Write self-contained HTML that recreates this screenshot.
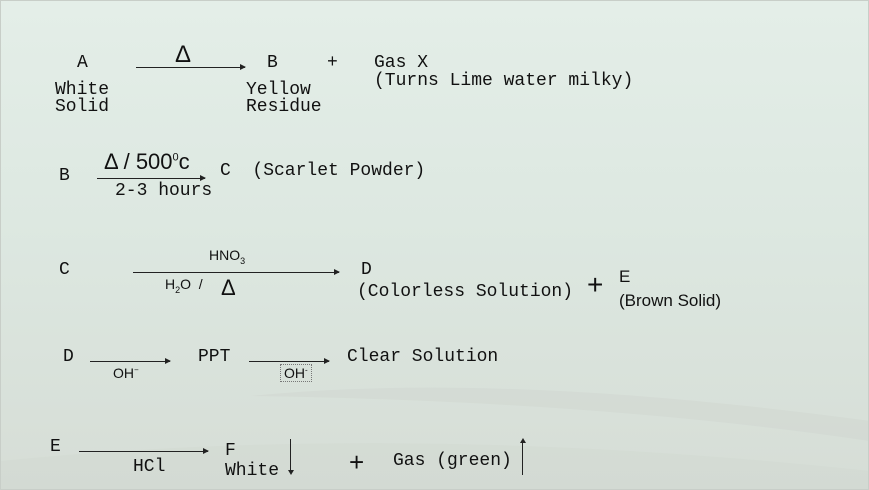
<!DOCTYPE html>
<html><head><meta charset="utf-8"><style>
body{margin:0;width:869px;height:490px;overflow:hidden;}
#c{position:relative;width:867px;height:488px;border:1px solid #c8cec8;background:linear-gradient(180deg,#e4eee8 0%,#dde8e1 45%,#d6ddd6 100%);font-family:"Liberation Mono",monospace;font-size:18px;color:#111;overflow:hidden}
.t{position:absolute;white-space:pre;line-height:1}
.s{font-family:"Liberation Sans",sans-serif}
.a{position:absolute;height:1px;background:#222}
.a:after{content:"";position:absolute;right:-1px;top:-3px;border-left:6px solid #222;border-top:3.5px solid transparent;border-bottom:3.5px solid transparent}
.v{position:absolute;width:1px;background:#222}
</style></head><body><div id="c">
<svg width="869" height="490" style="position:absolute;left:0;top:0"><path d="M250 395 Q500 370 869 420 L869 440 Q600 400 250 395Z" fill="#cfd6cf" opacity=".5"/><path d="M0 460 Q400 420 869 470 L869 490 L0 490Z" fill="#d0d7d0" opacity=".4"/></svg>
<div class="t" style="left:76px;top:53px">A</div>
<div class="a" style="left:135px;top:66px;width:109px"></div>
<div class="t s" style="left:174px;top:42px;font-size:24px">Δ</div>
<div class="t" style="left:266px;top:53px">B</div>
<div class="t" style="left:326px;top:53px">+</div>
<div class="t" style="left:373px;top:53px">Gas X</div>
<div class="t" style="left:373px;top:71px">(Turns Lime water milky)</div>
<div class="t" style="left:54px;top:80px">White</div>
<div class="t" style="left:54px;top:97px">Solid</div>
<div class="t" style="left:245px;top:80px">Yellow</div>
<div class="t" style="left:245px;top:97px">Residue</div>

<div class="t" style="left:58px;top:166px">B</div>
<div class="t s" style="left:103px;top:150px;font-size:22px">Δ / 500<sup style="font-size:11px">0</sup>c</div>
<div class="a" style="left:96px;top:177px;width:108px"></div>
<div class="t" style="left:114px;top:181px">2-3 hours</div>
<div class="t" style="left:219px;top:161px">C  (Scarlet Powder)</div>

<div class="t" style="left:58px;top:260px">C</div>
<div class="t s" style="left:208px;top:247px;font-size:14px">HNO<sub style="font-size:9px">3</sub></div>
<div class="a" style="left:132px;top:271px;width:206px"></div>
<div class="t s" style="left:164px;top:276px;font-size:14px">H<sub style="font-size:9px">2</sub>O  /</div>
<div class="t s" style="left:220px;top:276px;font-size:22px">Δ</div>
<div class="t" style="left:360px;top:260px">D</div>
<div class="t" style="left:356px;top:282px">(Colorless Solution)</div>
<div class="t s" style="left:586px;top:270px;font-size:28px">+</div>
<div class="t s" style="left:618px;top:267px;font-size:17px">E</div>
<div class="t s" style="left:618px;top:291px;font-size:17px">(Brown Solid)</div>

<div class="t" style="left:62px;top:347px">D</div>
<div class="a" style="left:89px;top:360px;width:80px"></div>
<div class="t s" style="left:112px;top:365px;font-size:14px">OH<sup style="font-size:8px">−</sup></div>
<div class="t" style="left:197px;top:347px">PPT</div>
<div class="a" style="left:248px;top:360px;width:80px"></div>
<div class="t s" style="left:279px;top:363px;font-size:14px;border:1px dotted #777;padding:1px 3px">OH<sup style="font-size:8px">-</sup></div>
<div class="t" style="left:346px;top:347px">Clear Solution</div>

<div class="t" style="left:49px;top:437px">E</div>
<div class="a" style="left:78px;top:450px;width:129px"></div>
<div class="t" style="left:132px;top:457px">HCl</div>
<div class="t" style="left:224px;top:441px">F</div>
<div class="t" style="left:224px;top:461px">White</div>
<div class="v" style="left:289px;top:438px;height:31px"></div>
<div style="position:absolute;left:287px;top:469px;border-top:5px solid #222;border-left:3px solid transparent;border-right:3px solid transparent"></div>
<div class="t s" style="left:348px;top:448px;font-size:26px">+</div>
<div class="t" style="left:392px;top:451px">Gas (green)</div>
<div class="v" style="left:521px;top:442px;height:32px"></div>
<div style="position:absolute;left:519px;top:437px;border-bottom:5px solid #222;border-left:3px solid transparent;border-right:3px solid transparent"></div>
</div></body></html>
